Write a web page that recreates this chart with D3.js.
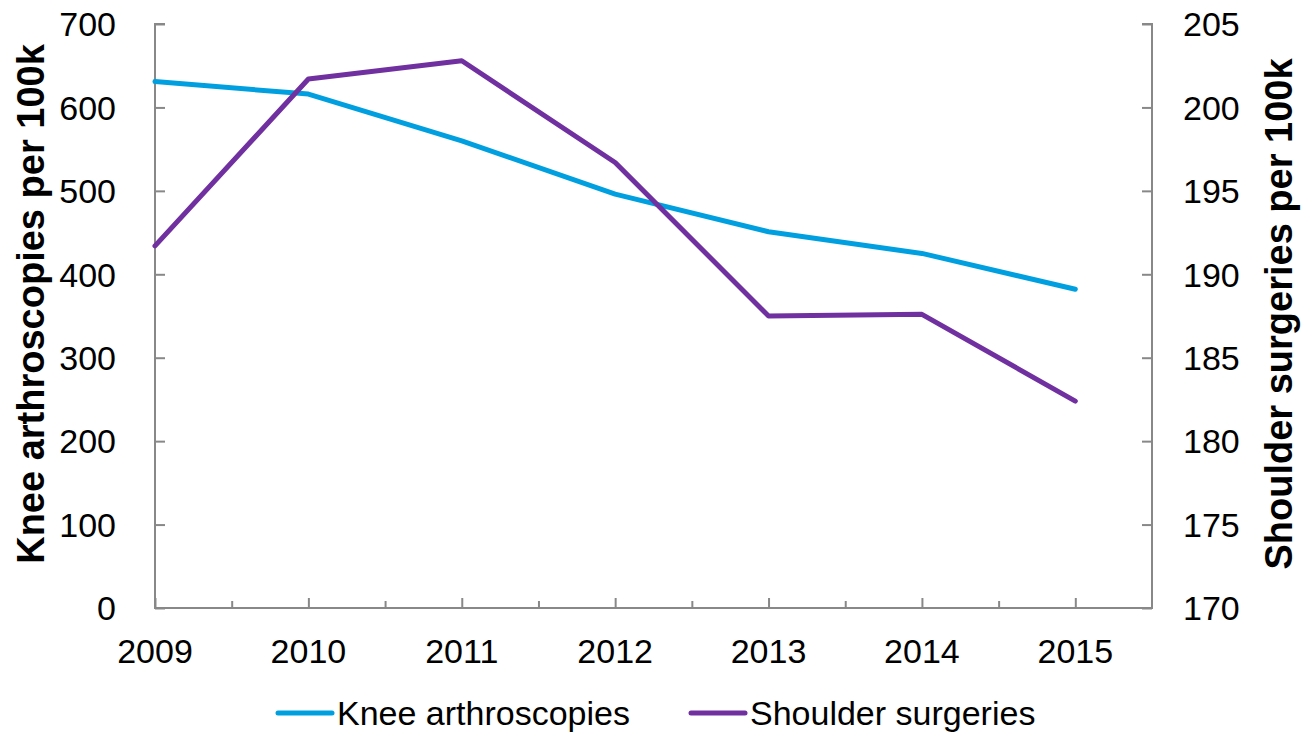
<!DOCTYPE html>
<html>
<head>
<meta charset="utf-8">
<script src="https://cdn.jsdelivr.net/npm/d3@7"></script>
<style>
  html, body { margin: 0; padding: 0; background: #fff; }
  svg { display: block; font-family: "Liberation Sans", Arial, sans-serif; }
</style>
</head>
<body>
<svg id="chart" width="1303" height="733"></svg>
<script>
const years = [2009, 2010, 2011, 2012, 2013, 2014, 2015];
const knee = [631, 616, 560, 496, 451, 425, 382];
const shoulder = [191.7, 201.7, 202.8, 196.7, 187.5, 187.6, 182.4];
const leftTicks = [0, 100, 200, 300, 400, 500, 600, 700];
const rightTicks = [170, 175, 180, 185, 190, 195, 200, 205];
const seriesNames = ["Knee arthroscopies", "Shoulder surgeries"];
const colors = ["#00A0E0", "#7030A0"];

const svg = d3.select("#chart");
const L = 155, R = 1152, T = 24, B = 608;
const axisColor = "#888888";

const x = d3.scaleLinear().domain([2009, 2015.5]).range([L, R]);
const yL = d3.scaleLinear().domain([0, 700]).range([B, T]);
const yR = d3.scaleLinear().domain([170, 205]).range([B, T]);

// left axis
const gL = svg.append("g").attr("transform", `translate(${L},0)`)
  .call(d3.axisRight(yL).tickValues(leftTicks).tickSize(10).tickFormat(""));
gL.select(".domain").attr("d", `M10,${T}H0V${B}H10`);
gL.selectAll("path,line").attr("stroke", axisColor).attr("stroke-width", 2);

// right axis
const gR = svg.append("g").attr("transform", `translate(${R},0)`)
  .call(d3.axisLeft(yR).tickValues(rightTicks).tickSize(10).tickFormat(""));
gR.select(".domain").attr("d", `M-10,${T}H0V${B}H-10`);
gR.selectAll("path,line").attr("stroke", axisColor).attr("stroke-width", 2);

// x axis: major ticks at years, minor at half years
const minor = years.map(y => y + 0.5).filter(v => v < 2015.5);
svg.append("g").attr("transform", `translate(0,${B})`)
  .call(d3.axisTop(x).tickValues(minor).tickSize(7).tickFormat(""))
  .call(g => g.select(".domain").remove())
  .selectAll("line").attr("stroke", axisColor).attr("stroke-width", 2);
const gX = svg.append("g").attr("transform", `translate(0,${B})`)
  .call(d3.axisTop(x).tickValues(years).tickSize(10).tickFormat(""));
gX.select(".domain").attr("d", `M${L},0H${R}`);
gX.selectAll("path,line").attr("stroke", axisColor).attr("stroke-width", 2);

// tick labels
svg.append("g").selectAll("text").data(leftTicks).join("text")
  .attr("x", 116).attr("y", d => yL(d)).attr("dy", "0.36em")
  .attr("text-anchor", "end").attr("font-size", 34).attr("fill", "#000")
  .text(d => d);
svg.append("g").selectAll("text").data(rightTicks).join("text")
  .attr("x", 1183).attr("y", d => yR(d)).attr("dy", "0.36em")
  .attr("text-anchor", "start").attr("font-size", 34).attr("fill", "#000")
  .text(d => d);
svg.append("g").selectAll("text").data(years).join("text")
  .attr("x", d => x(d)).attr("y", 663)
  .attr("text-anchor", "middle").attr("font-size", 34).attr("fill", "#000")
  .text(d => d);

// axis titles
svg.append("text")
  .attr("transform", `translate(44,${(T + B) / 2 - 12}) rotate(-90)`)
  .attr("text-anchor", "middle").attr("font-size", 38).attr("font-weight", "bold")
  .text("Knee arthroscopies per 100k");
svg.append("text")
  .attr("transform", `translate(1292,${(T + B) / 2 - 2}) rotate(-90)`)
  .attr("text-anchor", "middle").attr("font-size", 38).attr("font-weight", "bold")
  .text("Shoulder surgeries per 100k");

// lines
const lineL = d3.line().x((d, i) => x(years[i])).y(d => yL(d));
const lineR = d3.line().x((d, i) => x(years[i])).y(d => yR(d));
svg.append("path").datum(knee).attr("d", lineL)
  .attr("fill", "none").attr("stroke", colors[0]).attr("stroke-width", 5)
  .attr("stroke-linecap", "round").attr("stroke-linejoin", "round");
svg.append("path").datum(shoulder).attr("d", lineR)
  .attr("fill", "none").attr("stroke", colors[1]).attr("stroke-width", 5)
  .attr("stroke-linecap", "round").attr("stroke-linejoin", "round");

// legend
const legX = [278, 691];
const lg = svg.append("g").selectAll("g").data(seriesNames).join("g")
  .attr("transform", (d, i) => `translate(${legX[i]},713)`);
lg.append("line").attr("x1", 0).attr("x2", 54).attr("y1", 0).attr("y2", 0)
  .attr("stroke", (d, i) => colors[i]).attr("stroke-width", 5).attr("stroke-linecap", "round");
lg.append("text").attr("x", 59).attr("y", 0).attr("dy", "0.36em")
  .attr("font-size", 34).attr("fill", "#000").text(d => d);
</script>
</body>
</html>
